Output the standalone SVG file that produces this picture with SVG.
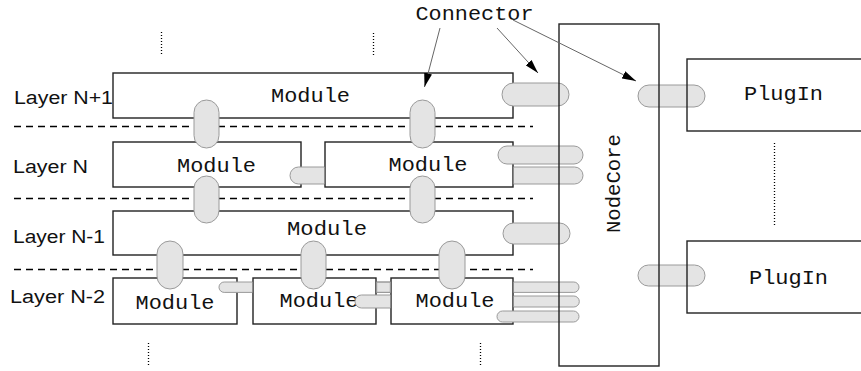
<svg xmlns="http://www.w3.org/2000/svg" width="861" height="371" viewBox="0 0 861 371">
<defs>
<style>
.box{fill:#fff;stroke:#222;stroke-width:1.4}
.frame{fill:none;stroke:#222;stroke-width:1.4}
.pill{fill:#e4e4e4;stroke:#9a9a9a;stroke-width:1}
.dash{stroke:#000;stroke-width:1.3;stroke-dasharray:7 5;fill:none}
.dot{stroke:#000;stroke-width:1.3;stroke-dasharray:1 2;fill:none}
.mono{font-family:"Liberation Mono","DejaVu Sans Mono",monospace;font-size:20px;fill:#111}
.sans{font-family:"Liberation Sans",Arial,sans-serif;font-size:18px;fill:#111}
.lead{stroke:#666;stroke-width:1;fill:none}
</style>
<marker id="ah" viewBox="0 0 14 8" refX="14" refY="4" markerWidth="14" markerHeight="8" markerUnits="userSpaceOnUse" orient="auto">
<path d="M0,0 L14,4 L0,8 z" fill="#000"/>
</marker>
</defs>
<rect width="861" height="371" fill="#fff"/>

<g id="layer-lines">
<line class="dash" x1="14" y1="126.5" x2="533" y2="126.5"/>
<line class="dash" x1="14" y1="198.5" x2="533" y2="198.5"/>
<line class="dash" x1="14" y1="269.5" x2="533" y2="269.5"/>
<line class="dot" x1="161.5" y1="32" x2="161.5" y2="55"/>
<line class="dot" x1="373.5" y1="33" x2="373.5" y2="57"/>
<line class="dot" x1="148.5" y1="343" x2="148.5" y2="367"/>
<line class="dot" x1="480.5" y1="343" x2="480.5" y2="366"/>
<line class="dot" x1="774.5" y1="143" x2="774.5" y2="226"/>
</g>

<g id="layer-labels">
<text class="sans" x="14" y="104" textLength="99" lengthAdjust="spacingAndGlyphs">Layer N+1</text>
<text class="sans" x="13" y="173" textLength="75" lengthAdjust="spacingAndGlyphs">Layer N</text>
<text class="sans" x="13" y="243" textLength="92" lengthAdjust="spacingAndGlyphs">Layer N-1</text>
<text class="sans" x="10" y="303" textLength="95" lengthAdjust="spacingAndGlyphs">Layer N-2</text>
</g>

<g id="module-n1">
<rect class="box" x="113" y="73" width="400" height="45"/>
<text class="mono" x="310.5" y="102" text-anchor="middle" textLength="79" lengthAdjust="spacingAndGlyphs">Module</text>
</g>
<g id="module-n-a">
<rect class="box" x="113" y="142" width="188" height="45"/>
<text class="mono" x="216.5" y="172" text-anchor="middle" textLength="79" lengthAdjust="spacingAndGlyphs">Module</text>
</g>
<g id="module-n-b">
<rect class="box" x="325" y="142" width="188" height="45"/>
<text class="mono" x="428" y="171" text-anchor="middle" textLength="79" lengthAdjust="spacingAndGlyphs">Module</text>
</g>
<g id="module-nm1">
<rect class="box" x="113" y="211" width="400" height="44"/>
<text class="mono" x="327" y="235" text-anchor="middle" textLength="80" lengthAdjust="spacingAndGlyphs">Module</text>
</g>
<g id="module-nm2-a">
<rect class="box" x="113" y="278" width="124" height="46"/>
<text class="mono" x="175" y="309" text-anchor="middle" textLength="79" lengthAdjust="spacingAndGlyphs">Module</text>
</g>
<g id="module-nm2-b">
<rect class="box" x="253" y="278" width="123" height="46"/>
<text class="mono" x="319" y="307" text-anchor="middle" textLength="79" lengthAdjust="spacingAndGlyphs">Module</text>
</g>
<g id="module-nm2-c">
<rect class="box" x="391" y="278" width="122" height="46"/>
<text class="mono" x="455" y="307" text-anchor="middle" textLength="79" lengthAdjust="spacingAndGlyphs">Module</text>
</g>

<g id="connectors">
<rect class="pill" x="194" y="100" width="25" height="48" rx="12.5" ry="12.5"/>
<rect class="pill" x="410" y="100" width="25" height="48" rx="12.5" ry="12.5"/>
<rect class="pill" x="194" y="176" width="25" height="47" rx="12.5" ry="12.5"/>
<rect class="pill" x="410" y="176" width="25" height="47" rx="12.5" ry="12.5"/>
<rect class="pill" x="157" y="241" width="26" height="48" rx="13" ry="13"/>
<rect class="pill" x="301" y="241" width="25" height="48" rx="12.5" ry="12.5"/>
<rect class="pill" x="439" y="241" width="26" height="48" rx="13" ry="13"/>

<rect class="pill" x="502" y="83" width="67" height="23" rx="11.5" ry="11.5"/>
<rect class="pill" x="498" y="146" width="85" height="18" rx="9" ry="9"/>
<path class="pill" d="M513.7,167 H574.5 A8.5,8.5 0 0 1 574.5,184 H513.7"/>
<rect class="pill" x="503" y="223" width="67" height="21" rx="10.5" ry="10.5"/>
<path class="pill" d="M324.3,167 H298.5 A8.5,8.5 0 0 0 298.5,184 H324.3"/>

<path class="pill" d="M252.3,282 H224.2 A5.2,5.2 0 0 0 224.2,292.4 H252.3"/>
<path class="pill" d="M376.7,282 H390.3 V292.4 H376.7 Z" stroke="none"/>
<path class="pill" d="M376.7,282 H390.3 M376.7,292.4 H390.3"/>
<path class="pill" d="M390.3,295 H361.5 A6.5,6.5 0 0 0 361.5,308 H390.3"/>
<path class="pill" d="M513.7,282 H573.8 A5.2,5.2 0 0 1 573.8,292.4 H513.7"/>
<path class="pill" d="M513.7,296 H573.8 A5.5,5.5 0 0 1 573.8,307 H513.7"/>
<rect class="pill" x="497" y="311" width="82" height="11" rx="5.5" ry="5.5"/>

<rect class="pill" x="638" y="85" width="67" height="22" rx="11" ry="11"/>
<rect class="pill" x="638" y="265" width="67" height="21" rx="10.5" ry="10.5"/>
</g>

<g id="nodecore">
<rect class="frame" x="559" y="24" width="100" height="342"/>
<text class="mono" transform="translate(620,183.5) rotate(-90)" x="0" y="0" text-anchor="middle" textLength="99" lengthAdjust="spacingAndGlyphs">NodeCore</text>
</g>

<g id="plugin-1">
<rect class="frame" x="687" y="59" width="200" height="72"/>
<text class="mono" x="783.5" y="100" text-anchor="middle" textLength="79" lengthAdjust="spacingAndGlyphs">PlugIn</text>
</g>
<g id="plugin-2">
<rect class="frame" x="687" y="241" width="200" height="72"/>
<text class="mono" x="788.5" y="284" text-anchor="middle" textLength="79" lengthAdjust="spacingAndGlyphs">PlugIn</text>
</g>

<g id="connector-label">
<text class="mono" x="474.5" y="20" text-anchor="middle" textLength="118" lengthAdjust="spacingAndGlyphs">Connector</text>
<line class="lead" x1="440" y1="28" x2="424.5" y2="87" marker-end="url(#ah)"/>
<line class="lead" x1="497" y1="28" x2="538" y2="73" marker-end="url(#ah)"/>
<line class="lead" x1="513" y1="20" x2="636" y2="81" marker-end="url(#ah)"/>
</g>
</svg>
